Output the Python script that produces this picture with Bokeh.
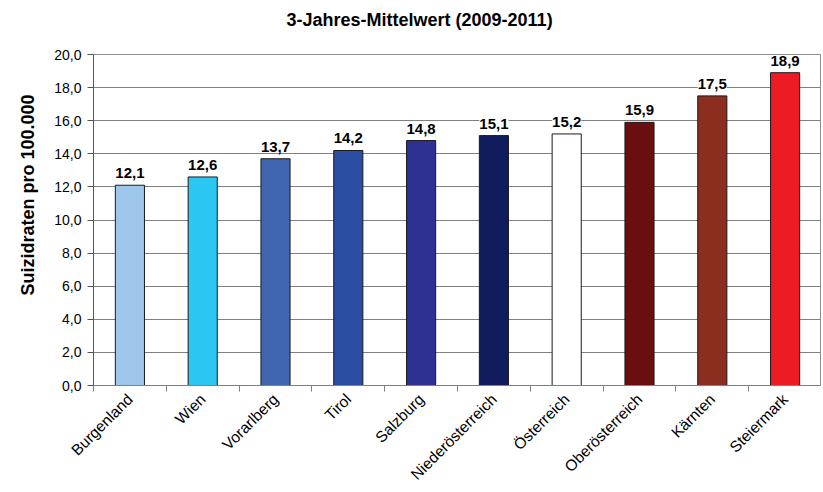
import math
from bokeh.plotting import figure
from bokeh.models import (ColumnDataSource, FixedTicker, LabelSet, Range1d,
                          CustomJSTickFormatter, Title)
from bokeh.core.properties import value
from bokeh.embed import file_html
from bokeh.resources import INLINE

# ---- data ----
regions = ["Burgenland", "Wien", "Vorarlberg", "Tirol", "Salzburg",
           "Niederösterreich", "Österreich", "Oberösterreich", "Kärnten", "Steiermark"]
rates = [12.1, 12.6, 13.7, 14.2, 14.8, 15.1, 15.2, 15.9, 17.5, 18.9]
colors = ["#9DC6EA", "#2CC6F3", "#4066B0", "#2B4EA2", "#2E3192",
          "#111C5C", "#FFFFFF", "#6B0E10", "#8B2E1F", "#ED1C24"]
y_ticks = [0, 2, 4, 6, 8, 10, 12, 14, 16, 18, 20]
title_text = "3-Jahres-Mittelwert (2009-2011)"
y_title = "Suizidraten pro 100.000"

n = len(regions)
xs = [i + 0.5 for i in range(n)]
labels = [f"{v:.1f}".replace(".", ",") for v in rates]
src = ColumnDataSource(dict(x=xs, top=rates, color=colors, label=labels))

FONT = "Liberation Sans"

p = figure(frame_width=728, frame_height=331, output_backend="svg", toolbar_location=None,
           x_range=Range1d(0, n), y_range=Range1d(0, 20), title=None,
           min_border_left=93, min_border_right=0, min_border_top=54,
           min_border_bottom=0)
# spacer next to the frame, then the real title above it
p.add_layout(Title(text=" ", text_font_size="4px", standoff=18), "above")
p.add_layout(Title(text=title_text, align="left", offset=193, vertical_align="bottom",
                   standoff=0, text_font=FONT, text_font_size="18px",
                   text_font_style="bold", text_color="#000000"), "above")
p.add_layout(Title(text=y_title, align="left", offset=90, standoff=28, text_font=FONT,
                   text_font_size="18px", text_font_style="bold",
                   text_color="#000000"), "left")
p.background_fill_color = "white"
p.border_fill_color = "white"
p.outline_line_color = "#8C8C8C"
p.outline_line_width = 1

p.vbar(x="x", top="top", width=0.4, bottom=0, source=src,
       fill_color="color", line_color="#1A1A1A", line_width=1)

# x axis
p.xaxis.ticker = FixedTicker(ticks=xs, minor_ticks=list(range(n + 1)))
p.xaxis.major_label_overrides = {x: r for x, r in zip(xs, regions)}
p.xaxis.major_label_orientation = math.pi / 4
p.xaxis.major_tick_line_color = None
p.xaxis.major_tick_out = 0
p.xaxis.major_tick_in = 0
p.xaxis.minor_tick_out = 6
p.xaxis.minor_tick_in = 0
p.xaxis.minor_tick_line_color = "#808080"
p.xaxis.axis_line_color = "#808080"
p.xaxis.major_label_text_font = FONT
p.xaxis.major_label_text_font_size = "15.5px"
p.xaxis.major_label_text_color = "#000000"
p.xaxis.major_label_standoff = 5
p.xgrid.grid_line_color = None

# y axis
p.yaxis.ticker = FixedTicker(ticks=y_ticks, minor_ticks=[])
p.yaxis.formatter = CustomJSTickFormatter(code="return tick.toFixed(1).replace('.', ',');")
p.yaxis.major_tick_out = 6
p.yaxis.major_tick_in = 0
p.yaxis.minor_tick_line_color = None
p.yaxis.major_tick_line_color = "#555555"
p.yaxis.axis_line_color = "#555555"
p.yaxis.major_label_text_font = FONT
p.yaxis.major_label_text_font_size = "14px"
p.yaxis.major_label_text_color = "#000000"
p.yaxis.major_label_standoff = 6
p.ygrid.grid_line_color = "#808080"
p.ygrid.grid_line_width = 1
p.ygrid.ticker = FixedTicker(ticks=y_ticks)

# value labels
p.add_layout(LabelSet(x="x", y="top", text="label", source=src,
                      text_align="center", text_baseline="bottom", y_offset=7,
                      text_font=value(FONT), text_font_size=value("15px"),
                      text_font_style="bold",
                      text_color="#000000", background_fill_color="white"))

open("out.html", "w").write(file_html(p, INLINE))
